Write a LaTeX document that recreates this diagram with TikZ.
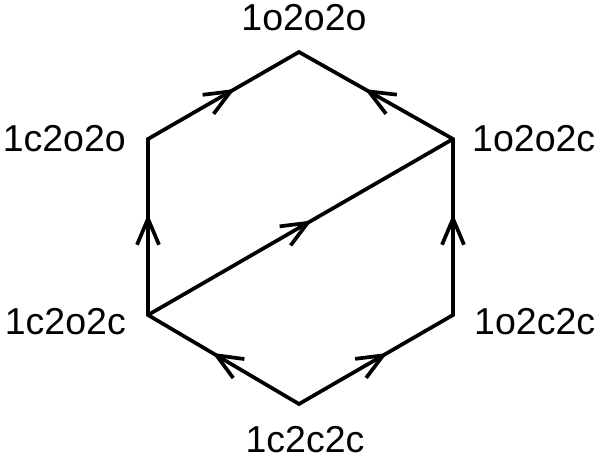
\documentclass[tikz,border=0pt]{standalone}
\usepackage{fontspec}
\setmainfont{Liberation Sans}
\usetikzlibrary{arrows.meta,decorations.markings}
\begin{document}
\begin{tikzpicture}[x=1pt,y=-1pt,
  edge/.style={line width=3.7pt,
    postaction={decorate,decoration={markings,
      mark=at position 0.5 with {\arrow[xshift=13pt]{Straight Barb[length=26pt,width=22pt,line width=3.7pt]}}}}},
  lbl/.style={font=\fontsize{37.5}{40}\selectfont, inner sep=0pt}]
\useasboundingbox (0,0) rectangle (605,466);
\coordinate (T) at (299,52);
\coordinate (UL) at (148,139);
\coordinate (UR) at (453,139);
\coordinate (LL) at (148,315);
\coordinate (LR) at (453,315);
\coordinate (B) at (299,404);
\draw[line width=3.7pt, line join=miter] (UL) -- (T) -- (UR) -- (LR) -- (B) -- (LL) -- cycle;
\draw[line width=3.7pt] (LL) -- (UR);
\path[edge] (UL) -- (T);
\path[edge] (UR) -- (T);
\path[edge] (LL) -- (UL);
\path[edge] (LL) -- (UR);
\path[edge] (LR) -- (UR);
\path[edge] (B) -- (LL);
\path[edge] (B) -- (LR);
\node[lbl] (nT) at (304,18) {1o2o2o};
\node[lbl, anchor=east] (nUL) at (126,139) {1c2o2o};
\node[lbl, anchor=west] (nUR) at (472,139) {1o2o2c};
\node[lbl, anchor=east] (nLL) at (126,322) {1c2o2c};
\node[lbl, anchor=west] (nLR) at (474,322) {1o2c2c};
\node[lbl] (nB) at (305,440) {1c2c2c};
\end{tikzpicture}
\end{document}
